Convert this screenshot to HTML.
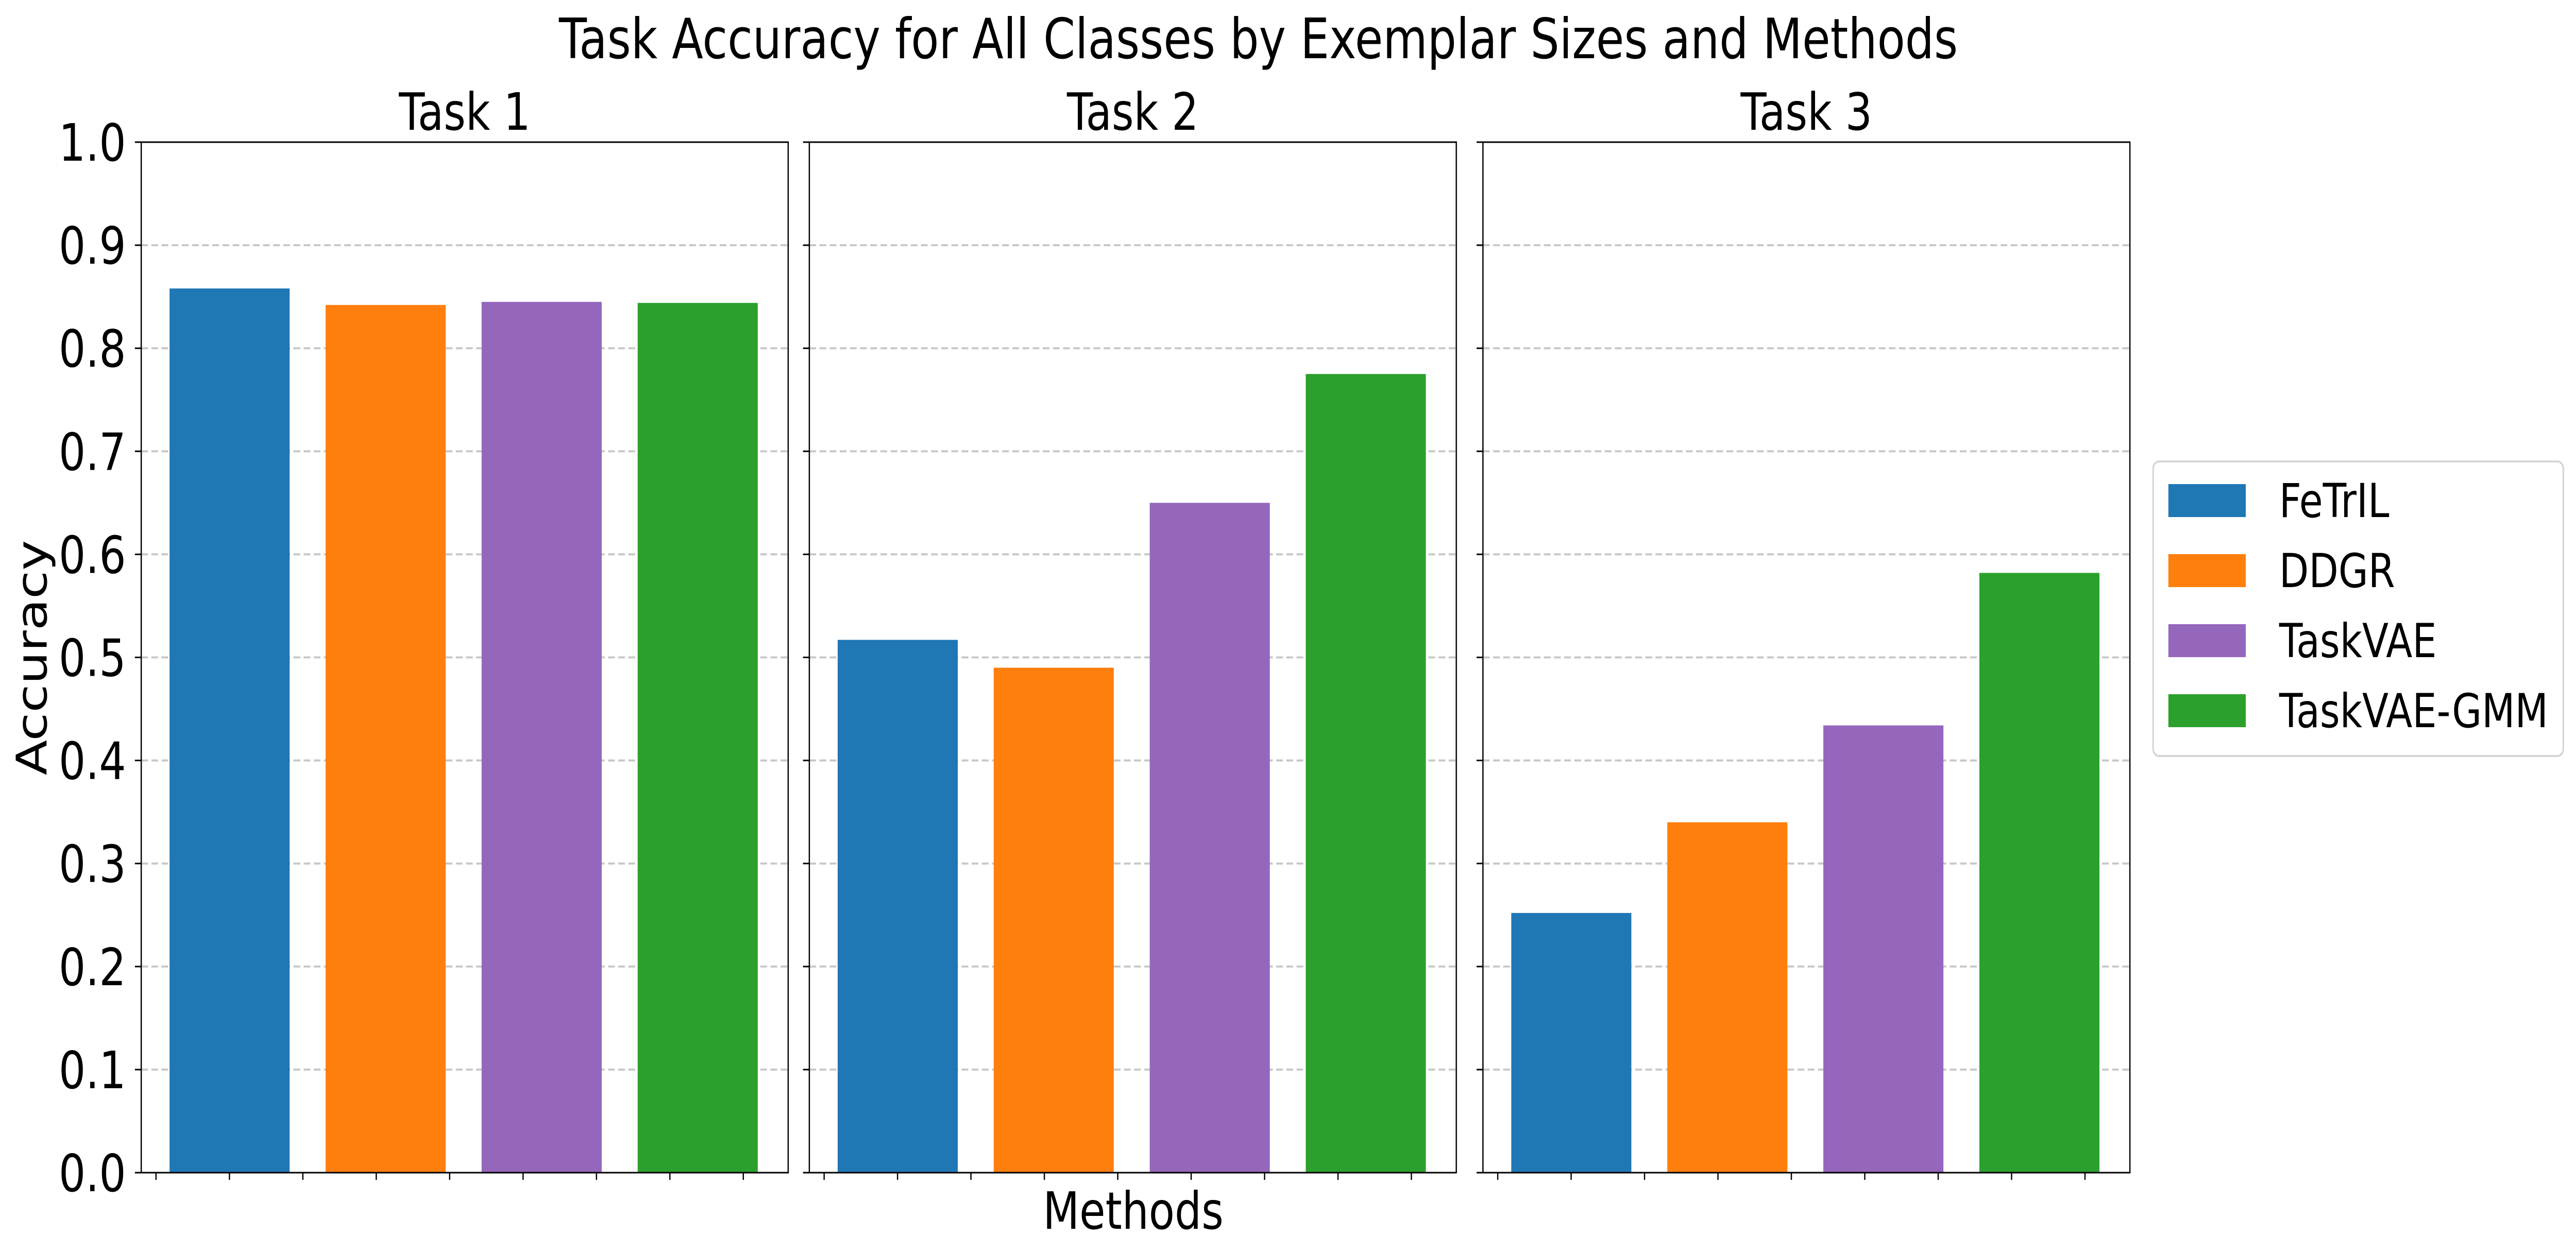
<!DOCTYPE html>
<html><head><meta charset="utf-8">
<style>
html,body{margin:0;padding:0;background:#fff;width:100%;height:100%;overflow:hidden;}
svg{display:block;width:100vw;height:100vh;font-family:"DejaVu Sans","Liberation Sans",sans-serif;}
</style></head>
<body>
<svg id="chart" viewBox="0 0 6092 2433" preserveAspectRatio="none" xmlns="http://www.w3.org/2000/svg">
<rect x="0" y="0" width="6092" height="2433" fill="#fff"/>
<text x="2976" y="113" font-size="108" text-anchor="middle">Task Accuracy for All Classes by Exemplar Sizes and Methods</text>
<text x="2680" y="2386" font-size="100" text-anchor="middle">Methods</text>
<text x="0" y="0" font-size="100" text-anchor="middle" transform="translate(110,1277) rotate(-90)">Accuracy</text>
<g id="panels"></g>
<g id="legend">
<rect x="5092" y="896" width="970" height="572" rx="14" fill="#fff" stroke="#d6d6d6" stroke-width="4"/>
</g>
</svg>
<script>
const tasks = ["Task 1", "Task 2", "Task 3"];
const methods = ["FeTrIL", "DDGR", "TaskVAE", "TaskVAE-GMM"];
const colors = ["#1f77b4", "#ff7f0e", "#9467bd", "#2ca02c"];
const task1Values = [0.858, 0.842, 0.845, 0.844];
const task2Values = [0.517, 0.490, 0.650, 0.775];
const task3Values = [0.252, 0.340, 0.434, 0.582];
const yTicks = [0.0, 0.1, 0.2, 0.3, 0.4, 0.5, 0.6, 0.7, 0.8, 0.9, 1.0];
const yTickLabels = ["0.0","0.1","0.2","0.3","0.4","0.5","0.6","0.7","0.8","0.9","1.0"];
const allValues = [task1Values, task2Values, task3Values];

const NS = "http://www.w3.org/2000/svg";
const axLefts = [334, 1914, 3507];
const axW = 1530, axTop = 276, axBottom = 2277;
function yScale(v){ return axBottom - v * (axBottom - axTop); }
function mk(tag, attrs, parent){ const e = document.createElementNS(NS, tag); for (const k in attrs) e.setAttribute(k, attrs[k]); parent.appendChild(e); return e; }

const panels = document.getElementById("panels");
tasks.forEach((t, ti) => {
  const L = axLefts[ti];
  const g = mk("g", {}, panels);
  
  
  yTicks.forEach((v, i) => {
    if (v === 0 || v === 1) return;
    const ln = mk("line", {x1: L, x2: L + axW, y1: yScale(v), y2: yScale(v), stroke: "#c8c8c8", "stroke-width": 4, "stroke-dasharray": "16 8"}, g);
    
    
  });
  allValues[ti].forEach((v, mi) => {
    const cx = L + 209 + mi * 369;
    const r = mk("rect", {x: cx - 142, y: yScale(v), width: 284, height: axBottom - yScale(v), fill: colors[mi]}, g);
    
    
  });
  for (let i = 0; i < 9; i++) {
    const x = L + 35 + i * 173.6;
    const tk = mk("line", {x1: x, x2: x, y1: axBottom, y2: axBottom + 14, stroke: "#000", "stroke-width": 3}, g);
    
    
  }
  yTicks.forEach((v, i) => {
    const tk = mk("line", {x1: L - 15, x2: L, y1: yScale(v), y2: yScale(v), stroke: "#000", "stroke-width": 3}, g);
    
    
    if (ti === 0) {
      const tx = mk("text", {x: L - 36, y: yScale(v) + 36, "font-size": 100, "text-anchor": "end"}, g);
      tx.textContent = yTickLabels[i];
      
      
    }
  });
  const fr = mk("rect", {x: L, y: axTop, width: axW, height: axBottom - axTop, fill: "none", stroke: "#000", "stroke-width": 3}, g);
  
  
  const st = mk("text", {x: L + axW / 2, y: 252, "font-size": 100, "text-anchor": "middle"}, g);
  st.textContent = t;
  
  
});

const legend = document.getElementById("legend");
methods.forEach((m, i) => {
  const y = 940 + i * 136;
  const p = mk("rect", {x: 5128, y: y, width: 183, height: 64, fill: colors[i]}, legend);
  
  
  const tx = mk("text", {x: 5390, y: y + 64, "font-size": 91}, legend);
  tx.textContent = m;
  
  
});
</script>
</body></html>
